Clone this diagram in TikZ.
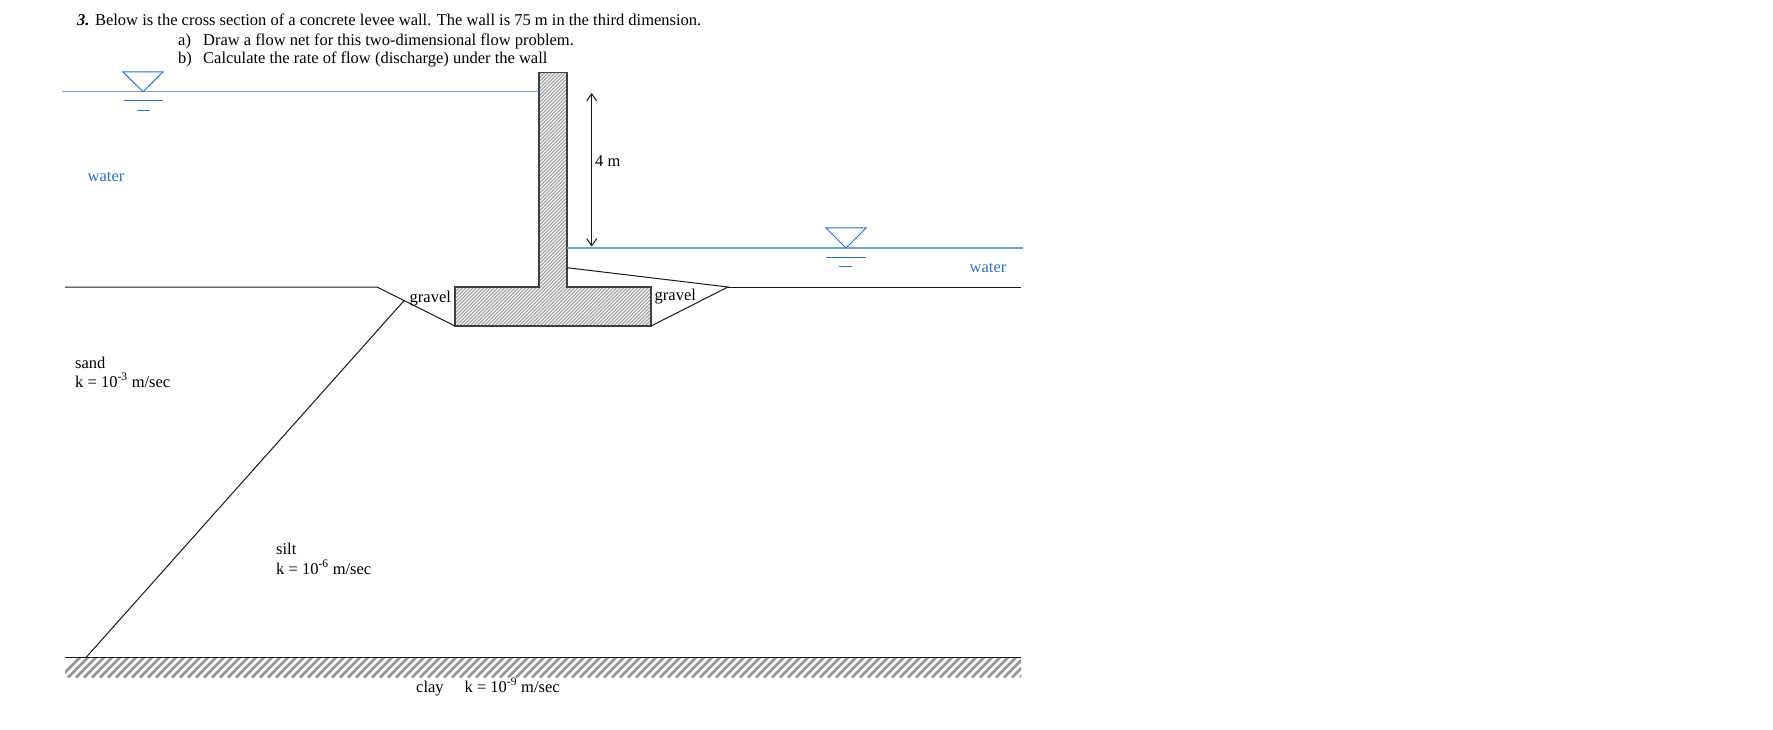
\documentclass[tikz,border=0pt]{standalone}
\usepackage{fontspec}
\setmainfont{Liberation Serif}
\usetikzlibrary{arrows.meta}
\definecolor{waterline}{HTML}{6FA0D8}
\definecolor{watermark}{HTML}{2A6FCF}
\begin{document}
\begin{tikzpicture}[x=1pt,y=-1pt]
    \tikzstyle{label}      = [anchor=base west,inner sep=0pt,font=\fontsize{16.5}{18}\selectfont]
    \tikzstyle{water text} = [label,text=watermark]
    \tikzstyle{water edge} = [-,waterline,line width=1.4pt]
    \tikzstyle{water mark} = [-,watermark,line width=1pt]
    \tikzstyle{soil edge}  = [-,black!90,line width=1pt]
    \tikzstyle{concrete}   = [draw=black!75,line width=1.2pt]
    \tikzstyle{wall hatch} = [-,black!35,line width=1.1pt]
    \tikzstyle{clay hatch} = [-,black!42,line width=2.6pt]

    \useasboundingbox (0,0) rectangle (1773,730);

    % problem text
    \node[label] (title) at (77,25.5)  {\textbf{\textit{3.}} Below is the cross section of a concrete levee wall. The wall is 75 m in the third dimension.};
    \node[label] (parta) at (178,45.5) {\makebox[25pt][l]{a)}Draw a flow net for this two-dimensional flow problem.};
    \node[label] (partb) at (178,64) {\makebox[25pt][l]{b)}Calculate the rate of flow (discharge) under the wall};

    % clay
    \begin{scope}
        \clip (65,657.5) rectangle (1021,677.5);
        \foreach \x in {60,68,...,1044}
            \draw[clay hatch] (\x,677.5) -- (\x+20,657.5);
    \end{scope}

    % wall
    \begin{scope}
        \clip (539,72.5) -- (567,72.5) -- (567,287) -- (651,287) -- (651,326) -- (455,326) -- (455,287) -- (539,287) -- cycle;
        \foreach \x in {190,193.5,...,655}
            \draw[wall hatch] (\x,326) -- (\x+254,72);
    \end{scope}
    \draw[concrete] (539,72.5) -- (567,72.5) -- (567,287) -- (651,287) -- (651,326) -- (455,326) -- (455,287) -- (539,287) -- cycle;

    % corners of the section
    \coordinate (wall left)    at (539,91.7);
    \coordinate (wall right)   at (567,248);
    \coordinate (wall slope)   at (567,267.7);
    \coordinate (left end)     at (62,91.7);
    \coordinate (right end)    at (1023,248);
    \coordinate (ground a)     at (65,287);
    \coordinate (ground b)     at (377,287);
    \coordinate (ground c)     at (728,287);
    \coordinate (ground d)     at (1021,287);
    \coordinate (base left)    at (455,326);
    \coordinate (base right)   at (651,326);
    \coordinate (clay a)       at (65,657.5);
    \coordinate (clay b)       at (1021,657.5);
    \coordinate (silt top)     at (404,300.7);
    \coordinate (silt bottom)  at (86,657.5);
    \coordinate (dim top)      at (591.7,93);
    \coordinate (dim bottom)   at (591.7,246.5);

    \draw[soil edge] (ground a)--(ground b)--(base left);
    \draw[soil edge] (base right)--(ground c)--(wall slope);
    \draw[soil edge] (ground c)--(ground d);
    \draw[soil edge] (clay a)--(clay b);
    \draw[soil edge] (silt top)--(silt bottom);
    \draw[soil edge,{Straight Barb[length=7pt,width=10pt]}-{Straight Barb[length=7pt,width=10pt]}] (dim top)--(dim bottom);

    % water levels
    \draw[water edge] (left end)--(wall left);
    \draw[water edge] (wall right)--(right end);
    \draw[water mark] (123,72) -- (163,72) -- (143,91.7) -- cycle;
    \draw[water mark] (123.5,101) -- (163,101);
    \draw[water mark] (137,110.7) -- (150,110.7);
    \draw[water mark] (826,228) -- (866,228) -- (846,248) -- cycle;
    \draw[water mark] (826,257.5) -- (866,257.5);
    \draw[water mark] (839,267) -- (852,267);

    % labels
    \node[water text] (water a) at (87.5,182)  {water};
    \node[water text] (water b) at (969.5,272.5)   {water};
    \node[label] (head)    at (595,167)  {4 m};
    \node[label] (gravel a) at (409.5,302)  {gravel};
    \node[label] (gravel b) at (654.5,301) {gravel};
    \node[label] (sand)    at (75,368)   {sand};
    \node[label] (sand k)  at (75,387)   {k = 10\textsuperscript{-3} m/sec};
    \node[label] (silt)    at (276,554.5) {silt};
    \node[label] (silt k)  at (276,574)  {k = 10\textsuperscript{-6} m/sec};
    \node[label] (clay)    at (416,692)  {clay\hspace{21pt}k = 10\textsuperscript{-9} m/sec};
\end{tikzpicture}
\end{document}
